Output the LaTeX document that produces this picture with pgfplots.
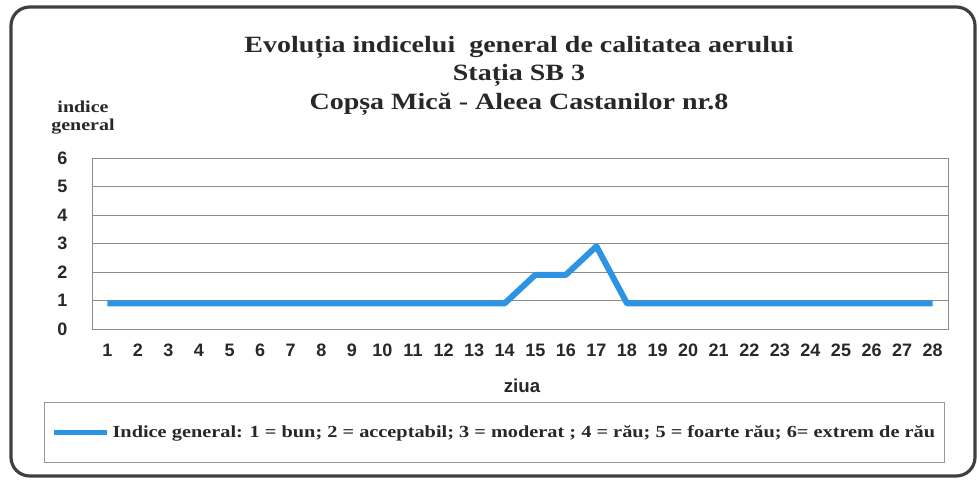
\documentclass[border=0pt]{standalone}
\usepackage{pgfplots}
\pgfplotsset{compat=1.18}
\usepackage{fontspec}
\setmainfont{Liberation Serif}
\newfontfamily\arial{Liberation Sans}
\newfontfamily\wserif{Liberation Serif}[FakeStretch=1.2]
\definecolor{lineblue}{RGB}{45,148,228}
\definecolor{txt}{RGB}{40,40,40}
\begin{document}
\begin{tikzpicture}[x=0.75pt,y=0.75pt]
\path[use as bounding box] (0,0) rectangle (979,479);
\draw[line width=2.4pt, color=black!75, rounded corners=14pt] (11,472) rectangle (975,3);
\begin{axis}[
  at={(69pt,112.5pt)}, anchor=south west,
  scale only axis, width=642pt, height=128.25pt,
  xmin=0.5, xmax=28.5, ymin=0, ymax=6,
  xtick={1,...,28}, ytick={0,...,6},
  ymajorgrids, grid style={black!45, line width=0.7pt},
  axis line style={black!45, line width=0.7pt},
  major tick length=0pt,
  tick label style={font=\arial\bfseries\fontsize{13.5}{14}\selectfont, text=txt},
  yticklabel style={xshift=-15pt},
  xticklabel style={yshift=-8pt},
  /pgf/number format/assume math mode=true,
  legend style={at={(0.4702,-0.605)}, anchor=center, draw=black!40, line width=0.6pt,
    font=\wserif\bfseries\fontsize{12.7}{14}\selectfont, text=txt,
    inner xsep=5pt, inner ysep=15pt},
  legend image code/.code={\draw[line width=4pt, lineblue] (0pt,0pt) -- (40pt,0pt);},
]
\addplot[lineblue, line width=4.5pt, line join=round] coordinates {
(1,0.9)(2,0.9)(3,0.9)(4,0.9)(5,0.9)(6,0.9)(7,0.9)(8,0.9)(9,0.9)(10,0.9)
(11,0.9)(12,0.9)(13,0.9)(14,0.9)(15,1.9)(16,1.9)(17,2.9)(18,0.9)(19,0.9)(20,0.9)
(21,0.9)(22,0.9)(23,0.9)(24,0.9)(25,0.9)(26,0.9)(27,0.9)(28,0.9)};
\addlegendentry{Indice general: 1 = bun; 2 = acceptabil; 3 = moderat ; 4 = rău; 5 = foarte rău; 6= extrem de rău}
\end{axis}
\node[anchor=base, font=\wserif\bfseries\fontsize{17.5}{18}\selectfont, text=txt] at (519,426) {Evoluția indicelui\ \ general de calitatea aerului};
\node[anchor=base, font=\wserif\bfseries\fontsize{17.5}{18}\selectfont, text=txt] at (519,398) {Stația SB 3};
\node[anchor=base, font=\wserif\bfseries\fontsize{17.5}{18}\selectfont, text=txt] at (519,369) {Copșa Mică - Aleea Castanilor nr.8};
\node[font=\wserif\bfseries\fontsize{12.5}{13}\selectfont, text=txt] at (83,372) {indice};
\node[font=\wserif\bfseries\fontsize{12.5}{13}\selectfont, text=txt] at (83,352) {general};
\node[font=\arial\bfseries\fontsize{14}{14}\selectfont, text=txt] at (522,93) {ziua};
\end{tikzpicture}
\end{document}
